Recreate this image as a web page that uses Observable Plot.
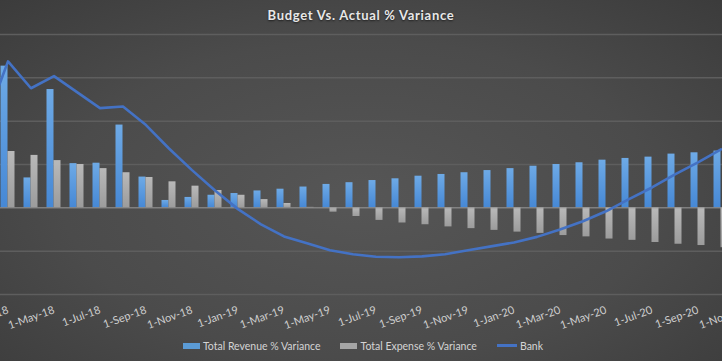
<!DOCTYPE html>
<html>
<head>
<meta charset="utf-8">
<script src="https://cdn.jsdelivr.net/npm/d3@7"></script>
<script src="https://cdn.jsdelivr.net/npm/@observablehq/plot@0.6"></script>
<style>
html, body { margin: 0; padding: 0; background: #3c3c3c; }
#chart {
  position: relative; width: 722px; height: 361px; overflow: hidden;
  background: radial-gradient(ellipse 75% 80% at 50% 55%, #565656 0%, #4b4b4b 55%, #3a3a3a 100%);
  font-family: Lato, "Open Sans", sans-serif;
}
#title {
  height: 30px; line-height: 30px; text-align: center; color: #e8e8e8;
  font-weight: bold; font-size: 13px; letter-spacing: 0.7px;
  text-shadow: 0 1px 2px rgba(0,0,0,0.6);
}
#plot svg { display: block; }
#legend {
  height: 31px; display: flex; justify-content: center; align-items: center;
  gap: 20px; color: #d4d4d4; font-size: 10.5px; padding-left: 4px;
}
#legend .item { display: flex; align-items: center; gap: 3px; }
#legend .sw { width: 17px; height: 6px; }
#legend .ln { width: 20px; height: 2.5px; background: #4472c4; }
</style>
</head>
<body>
<div id="chart">
  <div id="title">Budget Vs. Actual % Variance</div>
  <div id="plot"></div>
  <div id="legend">
    <div class="item"><div class="sw" style="background:#5b9bd5"></div><span>Total Revenue % Variance</span></div>
    <div class="item"><div class="sw" style="background:#a5a5a5"></div><span>Total Expense % Variance</span></div>
    <div class="item"><div class="ln"></div><span>Bank</span></div>
  </div>
</div>
<script>
const months = ["1-Feb-18","1-Mar-18","1-Apr-18","1-May-18","1-Jun-18","1-Jul-18","1-Aug-18","1-Sep-18","1-Oct-18","1-Nov-18","1-Dec-18",
  "1-Jan-19","1-Feb-19","1-Mar-19","1-Apr-19","1-May-19","1-Jun-19","1-Jul-19","1-Aug-19","1-Sep-19","1-Oct-19","1-Nov-19","1-Dec-19",
  "1-Jan-20","1-Feb-20","1-Mar-20","1-Apr-20","1-May-20","1-Jun-20","1-Jul-20","1-Aug-20","1-Sep-20","1-Oct-20","1-Nov-20"];
const tickLabels = ["1-Mar-18","1-May-18","1-Jul-18","1-Sep-18","1-Nov-18","1-Jan-19","1-Mar-19","1-May-19","1-Jul-19","1-Sep-19",
  "1-Nov-19","1-Jan-20","1-Mar-20","1-May-20","1-Jul-20","1-Sep-20","1-Nov-20"];
// Total Revenue % Variance (Feb-18 .. Nov-20)
const revenue = [null, 32.7, 6.9, 27.3, 10.2, 10.3, 19.1, 7.1, 1.7, 2.4, 2.9, 3.3, 3.9, 4.3, 4.8, 5.4, 5.8,
  6.3, 6.7, 7.3, 7.7, 8.1, 8.6, 9.05, 9.6, 10.0, 10.4, 11.0, 11.4, 11.7, 12.4, 12.7, 13.1, null];
// Total Expense % Variance
const expense = [null, 13.0, 12.1, 10.9, 10.0, 9.05, 8.1, 7.0, 6.0, 5.0, 4.0, 2.9, 1.9, 1.0, 0.1, -1.0, -2.0,
  -2.9, -3.5, -3.9, -4.4, -4.8, -5.2, -5.6, -5.9, -6.4, -6.7, -7.2, -7.5, -8.0, -8.4, -8.7, -9.2, null];
// Bank (secondary series, expressed on the primary scale)
const bank = [19.5, 33.8, 27.6, 30.4, 26.7, 23.0, 23.4, 19.1, 13.7, 8.7, 4.0, -0.3, -3.8, -6.6, -8.2, -9.8, -10.7,
  -11.3, -11.4, -11.2, -10.7, -9.8, -8.9, -8.0, -6.7, -5.0, -3.1, -0.8, 2.0, 4.7, 7.7, 10.5, 13.5, null];
const gridValues = [-20, -10, 10, 20, 30, 40];

const data = months.map((m, i) => ({month: m, revenue: revenue[i], expense: expense[i], bank: bank[i]}));

const defs = () => {
  const d = d3.create("svg:defs");
  const b = d.append("linearGradient").attr("id", "blueGrad").attr("x1", 0).attr("x2", 0).attr("y1", 0).attr("y2", 1);
  b.append("stop").attr("offset", "0%").attr("stop-color", "#6eaae6");
  b.append("stop").attr("offset", "100%").attr("stop-color", "#4688d5");
  const g = d.append("linearGradient").attr("id", "grayGrad").attr("x1", 0).attr("x2", 0).attr("y1", 0).attr("y2", 1);
  g.append("stop").attr("offset", "0%").attr("stop-color", "#b9b9b9");
  g.append("stop").attr("offset", "100%").attr("stop-color", "#9c9c9c");
  return d.node();
};

const bw = 23, x0 = -27.5;
const chart = Plot.plot({
  width: 722, height: 300,
  marginTop: 4, marginBottom: 36, marginLeft: 0, marginRight: 0,
  style: {background: "transparent", color: "#cfcfcf", fontFamily: "Lato, 'Open Sans', sans-serif", fontSize: "11px"},
  x: {type: "band", domain: months, range: [x0, x0 + months.length * bw], padding: 0, axis: null},
  y: {domain: [-20, 40], axis: null},
  marks: [
    defs,
    Plot.ruleY(gridValues, {stroke: "#5e5e5e", strokeWidth: 1.5}),
    Plot.barY(data, {x: "month", y: "revenue", fill: "url(#blueGrad)", insetLeft: 4.5, insetRight: 11.5}),
    Plot.barY(data, {x: "month", y: "expense", fill: "url(#grayGrad)", insetLeft: 11.5, insetRight: 4.5}),
    Plot.ruleY([0], {stroke: "#9a9a9a", strokeWidth: 1}),
    Plot.line(data, {x: "month", y: "bank", stroke: "#4472c4", strokeWidth: 2.6}),
    Plot.axisX(tickLabels, {tickSize: 0, tickPadding: 15, tickRotate: -20, fill: "#cfcfcf", label: null, fontSize: 11})
  ]
});
document.getElementById("plot").appendChild(chart);
</script>
</body>
</html>
